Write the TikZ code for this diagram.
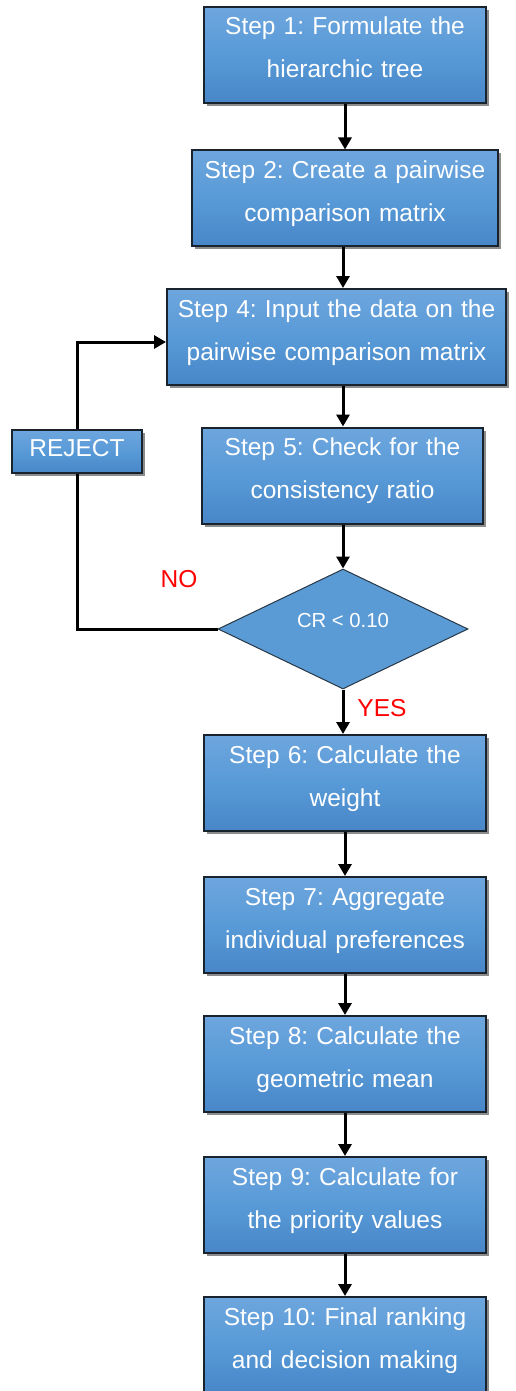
\documentclass[tikz,border=0pt]{standalone}
\usepackage{fontspec}
\setmainfont{Liberation Sans}
\usetikzlibrary{shapes.geometric,shadows,arrows.meta}
\definecolor{boxtop}{RGB}{110,166,222}
\definecolor{boxmid}{RGB}{88,154,215}
\definecolor{boxbot}{RGB}{72,134,200}
\definecolor{boxline}{RGB}{25,35,45}
\definecolor{crfill}{RGB}{91,155,213}
\definecolor{crline}{RGB}{40,55,70}
\definecolor{answer}{RGB}{255,0,0}
\tikzstyle{stepbox}=[draw=boxline, line width=1pt, top color=boxtop, bottom color=boxbot, middle color=boxmid,
  text=white, align=center, inner xsep=2pt, inner ysep=0pt, minimum height=48pt,
  text height=5pt, text depth=25pt, font=\fontsize{12.25}{21.5}\selectfont,
  drop shadow={shadow xshift=1.5pt, shadow yshift=-1.5pt, opacity=0.45, fill=black}]
\tikzstyle{rejectbox}=[stepbox, text height=6.5pt, text depth=2pt, minimum width=65pt, minimum height=21.5pt, inner xsep=0pt]
\tikzstyle{decision}=[diamond, draw=crline, line width=0.5pt, fill=crfill, text=white, inner sep=0pt,
  minimum width=125pt, minimum height=60pt, font=\fontsize{10.15}{12}\selectfont]
\tikzstyle{flow}=[line width=1.5pt, -{Triangle[length=6pt,width=6.5pt]}]
\tikzstyle{loop}=[line width=1.5pt]
\tikzstyle{answer}=[text=answer, font=\fontsize{12.25}{14}\selectfont, inner sep=0pt]
\frenchspacing

\begin{document}
\begin{tikzpicture}[x=0.5pt, y=-0.5pt]
    \clip (0,0) rectangle (515,1391);
    % Steps of the procedure
    \node[stepbox, text width=137pt] (s1) at (345,55) {Step 1: Formulate the\\hierarchic tree};
    \node[stepbox, text width=149pt] (s2) at (345,198.5) {Step 2: Create a pairwise\\comparison matrix};
    \node[stepbox, text width=165.5pt] (s4) at (336.5,337) {Step 4: Input the data on the\\pairwise comparison matrix};
    \node[stepbox, text width=136.5pt] (s5) at (342.5,475.5) {Step 5: Check for the\\consistency ratio};
    \node[decision] (cr) at (343,629) {\raisebox{0.9pt}[0pt][0pt]{CR < 0.10}};
    \node[stepbox, text width=137pt] (s6) at (345,783) {Step 6: Calculate the\\weight};
    \node[stepbox, text width=137pt] (s7) at (345,925) {Step 7: Aggregate\\individual preferences};
    \node[stepbox, text width=137pt] (s8) at (345,1064) {Step 8: Calculate the\\geometric mean};
    \node[stepbox, text width=137pt] (s9) at (345,1205) {Step 9: Calculate for\\the priority values};
    \node[stepbox, text width=137pt] (s10) at (345,1345) {Step 10: Final ranking\\and decision making};
    \node[rejectbox] (rej) at (77,451.5) {REJECT};

    % Answers of the check
    \node[answer] (no) at (179,579) {NO};
    \node[answer] (yes) at (382,708) {YES};

     \path[flow] (s1) edge (s2);
     \path[flow] (s2.south -| cr) edge (s4.north -| cr);
     \path[flow] (s4.south -| cr) edge (s5.north -| cr);
     \path[flow] (s5.south -| cr) edge (cr.north);
     \path[flow] (cr.south) edge (s6.north -| cr);
     \path[flow] (s6) edge (s7);
     \path[flow] (s7) edge (s8);
     \path[flow] (s8) edge (s9);
     \path[flow] (s9) edge (s10);

     \draw[loop] (cr.west) -| (rej.south);
     \draw[flow] (rej.north) |- ([yshift=-2.5pt]s4.west);
\end{tikzpicture}
\end{document}
